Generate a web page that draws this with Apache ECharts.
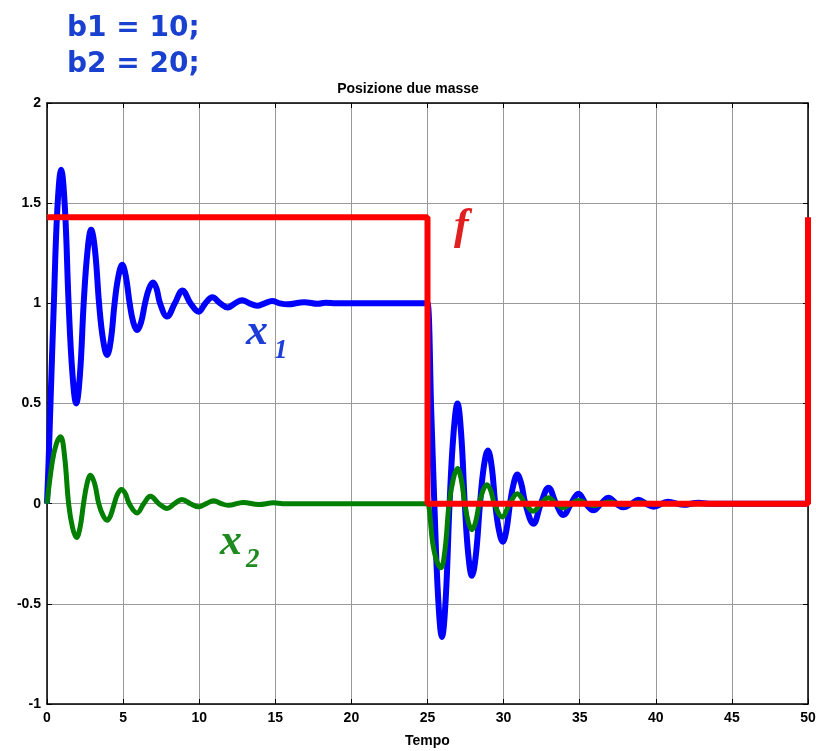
<!DOCTYPE html>
<html>
<head>
<meta charset="utf-8">
<script src="https://cdn.jsdelivr.net/npm/echarts@6/dist/echarts.min.js"></script>
<style>
  html, body { margin: 0; padding: 0; background: #fff; }
  #chart { width: 816px; height: 751px; }
</style>
</head>
<body>
<div id="chart"></div>
<script>
// x1: posizione della prima massa
var x1Time = [0, 0.1, 0.25, 0.45, 0.68, 0.93, 1.18, 1.42, 1.67, 1.92, 2.17, 2.41, 2.66, 2.90, 3.16, 3.42, 3.68, 3.95, 4.2, 4.44, 4.69, 4.94, 5.18, 5.43, 5.67, 5.92, 6.18, 6.44, 6.7, 6.97, 7.2, 7.43,
  7.89, 8.40, 8.90, 9.43, 9.97, 10.4, 10.87, 11.37, 11.87, 12.35, 12.82, 13.3, 13.8, 14.3, 14.79, 15.3, 15.8, 16.9, 17.8, 18.3, 19, 24.9, 25,
  25.25, 25.45, 25.7, 25.95, 26.2, 26.45, 26.71, 26.97, 27.21, 27.45, 27.68, 27.92, 28.18, 28.45, 28.71, 28.97, 29.21, 29.45, 29.7, 29.95, 30.18, 30.42, 30.66, 30.9, 31.16, 31.43,
  31.96, 32.45, 32.95, 33.45, 33.93, 34.43, 34.92, 35.4, 35.9, 36.4, 36.89, 37.4, 37.87, 38.4, 38.86, 39.35, 39.85, 40.8, 41.8, 42.8, 43.5, 50];
var x1Pos = [0, 0.2, 0.55, 1.0, 1.47, 1.667, 1.47, 1.0, 0.65, 0.50, 0.65, 1.0, 1.26, 1.367, 1.26, 1.0, 0.82, 0.742, 0.82, 1.0, 1.135, 1.192, 1.135, 1.0, 0.905, 0.867, 0.905, 1.0, 1.073, 1.104, 1.073, 1.0,
  0.934, 1.0, 1.064, 1.0, 0.958, 1.0, 1.03, 1.0, 0.979, 1.0, 1.016, 1.0, 0.988, 1.0, 1.012, 1.0, 0.995, 1.006, 0.998, 1.003, 1.0, 1.0, 1.0,
  0.45, 0.0, -0.47, -0.666, -0.47, 0.0, 0.35, 0.50, 0.35, 0.0, -0.255, -0.36, -0.255, 0.0, 0.19, 0.265, 0.19, 0.0, -0.135, -0.19, -0.135, 0.0, 0.10, 0.145, 0.10, 0.0,
  -0.10, 0.0, 0.08, 0.0, -0.057, 0.0, 0.05, 0.0, -0.033, 0.0, 0.03, 0.0, -0.018, 0.0, 0.02, 0.0, -0.015, 0.01, -0.006, 0.005, 0, 0];

// x2: posizione della seconda massa
var x2Time = [0, 0.35, 0.62, 0.89, 1.15, 1.42, 1.68, 1.94, 2.17, 2.4, 2.63, 2.86, 3.13, 3.4, 3.68, 3.95, 4.18, 4.42, 4.65, 4.89, 5.15, 5.4,
  5.92, 6.36, 6.8, 7.35, 7.89, 8.38, 8.87, 9.42, 9.97, 10.46, 10.95, 11.45, 11.9, 12.9, 13.9, 14.9, 15.5, 24.9, 25,
  25.35, 25.62, 25.88, 26.15, 26.42, 26.7, 26.97, 27.21, 27.45, 27.68, 27.92, 28.16, 28.4, 28.65, 28.9, 29.15, 29.4,
  29.9, 30.4, 30.9, 31.43, 31.96, 32.45, 32.95, 33.45, 33.93, 34.43, 34.92, 35.9, 36.9, 37.9, 38.9, 39.9, 50];
var x2Pos = [0, 0.21, 0.3, 0.334, 0.24, 0.0, -0.12, -0.169, -0.12, 0.0, 0.1, 0.142, 0.1, 0.0, -0.059, -0.083, -0.059, 0.0, 0.05, 0.071, 0.05, 0.0,
  -0.046, 0.0, 0.037, 0.0, -0.024, 0.0, 0.021, 0.0, -0.016, 0.0, 0.014, 0.0, -0.008, 0.006, -0.004, 0.004, 0, 0, 0,
  -0.2, -0.29, -0.32, -0.23, 0.0, 0.125, 0.176, 0.125, 0.0, -0.092, -0.13, -0.092, 0.0, 0.067, 0.095, 0.067, 0.0,
  -0.066, 0.0, 0.05, 0.0, -0.038, 0.0, 0.03, 0.0, -0.02, 0.0, 0.016, -0.01, 0.008, -0.005, 0.004, 0, 0];

// f: forza applicata
var fTime = [0, 25, 25, 50, 50];
var fVal = [1.43, 1.43, 0, 0, 1.43];

var xTicks = [0, 50, 5];
var yTicks = [-1, 2, 0.5];

function pairs(t, v) {
  return t.map(function (x, i) { return [x, v[i]]; });
}

var labelFont = 'Liberation Sans, Arial, sans-serif';
var mathFont = 'Liberation Serif, Times New Roman, serif';

var chart = echarts.init(document.getElementById('chart'), null, { renderer: 'canvas' });

var boxAxis = {
  axisLine: { show: true, onZero: false, lineStyle: { color: '#000', width: 1.5 } },
  axisTick: { show: true, inside: true, length: 5, lineStyle: { color: '#000', width: 1 } },
  axisLabel: { show: false },
  splitLine: { show: false }
};

var option = {
  animation: false,
  backgroundColor: '#fff',
  title: {
    text: 'Posizione due masse',
    left: 'center',
    top: 77,
    textStyle: { fontFamily: labelFont, fontWeight: 'bold', fontSize: 14, color: '#000' }
  },
  grid: { left: 47, right: 8, top: 103, bottom: 47, containLabel: false, outerBoundsMode: 'none' },
  xAxis: [
    {
      type: 'value', min: xTicks[0], max: xTicks[1], interval: xTicks[2],
      name: 'Tempo', nameLocation: 'middle', nameGap: 30,
      nameTextStyle: { fontFamily: labelFont, fontWeight: 'bold', fontSize: 14, color: '#000' },
      axisLine: { show: true, onZero: false, lineStyle: { color: '#000', width: 1.5 } },
      axisTick: { show: true, inside: true, length: 5, lineStyle: { color: '#000', width: 1 } },
      axisLabel: { fontFamily: labelFont, fontWeight: 'bold', fontSize: 14, color: '#000', margin: 7, showMaxLabel: true, showMinLabel: true },
      splitLine: { show: true, lineStyle: { color: '#999', width: 1 } }
    },
    Object.assign({ type: 'value', position: 'top', min: xTicks[0], max: xTicks[1], interval: xTicks[2] }, boxAxis)
  ],
  yAxis: [
    {
      type: 'value', min: yTicks[0], max: yTicks[1], interval: yTicks[2],
      axisLine: { show: true, onZero: false, lineStyle: { color: '#000', width: 1.5 } },
      axisTick: { show: true, inside: true, length: 5, lineStyle: { color: '#000', width: 1 } },
      axisLabel: { fontFamily: labelFont, fontWeight: 'bold', fontSize: 14, color: '#000', margin: 6, showMaxLabel: true, showMinLabel: true },
      splitLine: { show: true, lineStyle: { color: '#999', width: 1 } }
    },
    Object.assign({ type: 'value', position: 'right', min: yTicks[0], max: yTicks[1], interval: yTicks[2] }, boxAxis)
  ],
  graphic: [
    { type: 'text', left: 67, top: 15, style: { text: 'b1 = 10;', fill: '#1a40cf', font: 'bold 28px "DejaVu Sans", Verdana, sans-serif' } },
    { type: 'text', left: 67, top: 51, style: { text: 'b2 = 20;', fill: '#1a40cf', font: 'bold 28px "DejaVu Sans", Verdana, sans-serif' } },
    { type: 'text', x: 246, y: 333, style: { text: 'x', fill: '#1c3dd8', verticalAlign: 'middle', font: 'italic bold 44px ' + mathFont } },
    { type: 'text', x: 274, y: 351, style: { text: '1', fill: '#1c3dd8', verticalAlign: 'middle', font: 'italic bold 27px ' + mathFont } },
    { type: 'text', x: 220, y: 543, style: { text: 'x', fill: '#1f8a1f', verticalAlign: 'middle', font: 'italic bold 44px ' + mathFont } },
    { type: 'text', x: 246, y: 560, style: { text: '2', fill: '#1f8a1f', verticalAlign: 'middle', font: 'italic bold 27px ' + mathFont } },
    { type: 'text', x: 454, y: 228, style: { text: 'f', fill: '#e02020', verticalAlign: 'middle', font: 'italic bold 44px ' + mathFont } }
  ],
  series: [
    {
      name: 'x1', type: 'line', data: pairs(x1Time, x1Pos),
      smooth: 0.4, showSymbol: false,
      lineStyle: { color: '#0000ff', width: 6 }
    },
    {
      name: 'x2', type: 'line', data: pairs(x2Time, x2Pos),
      smooth: 0.4, showSymbol: false,
      lineStyle: { color: '#007f00', width: 5 }
    },
    {
      name: 'f', type: 'line', data: pairs(fTime, fVal),
      showSymbol: false, clip: false,
      lineStyle: { color: '#ff0000', width: 6 }
    }
  ]
};

chart.setOption(option);
</script>
</body>
</html>
